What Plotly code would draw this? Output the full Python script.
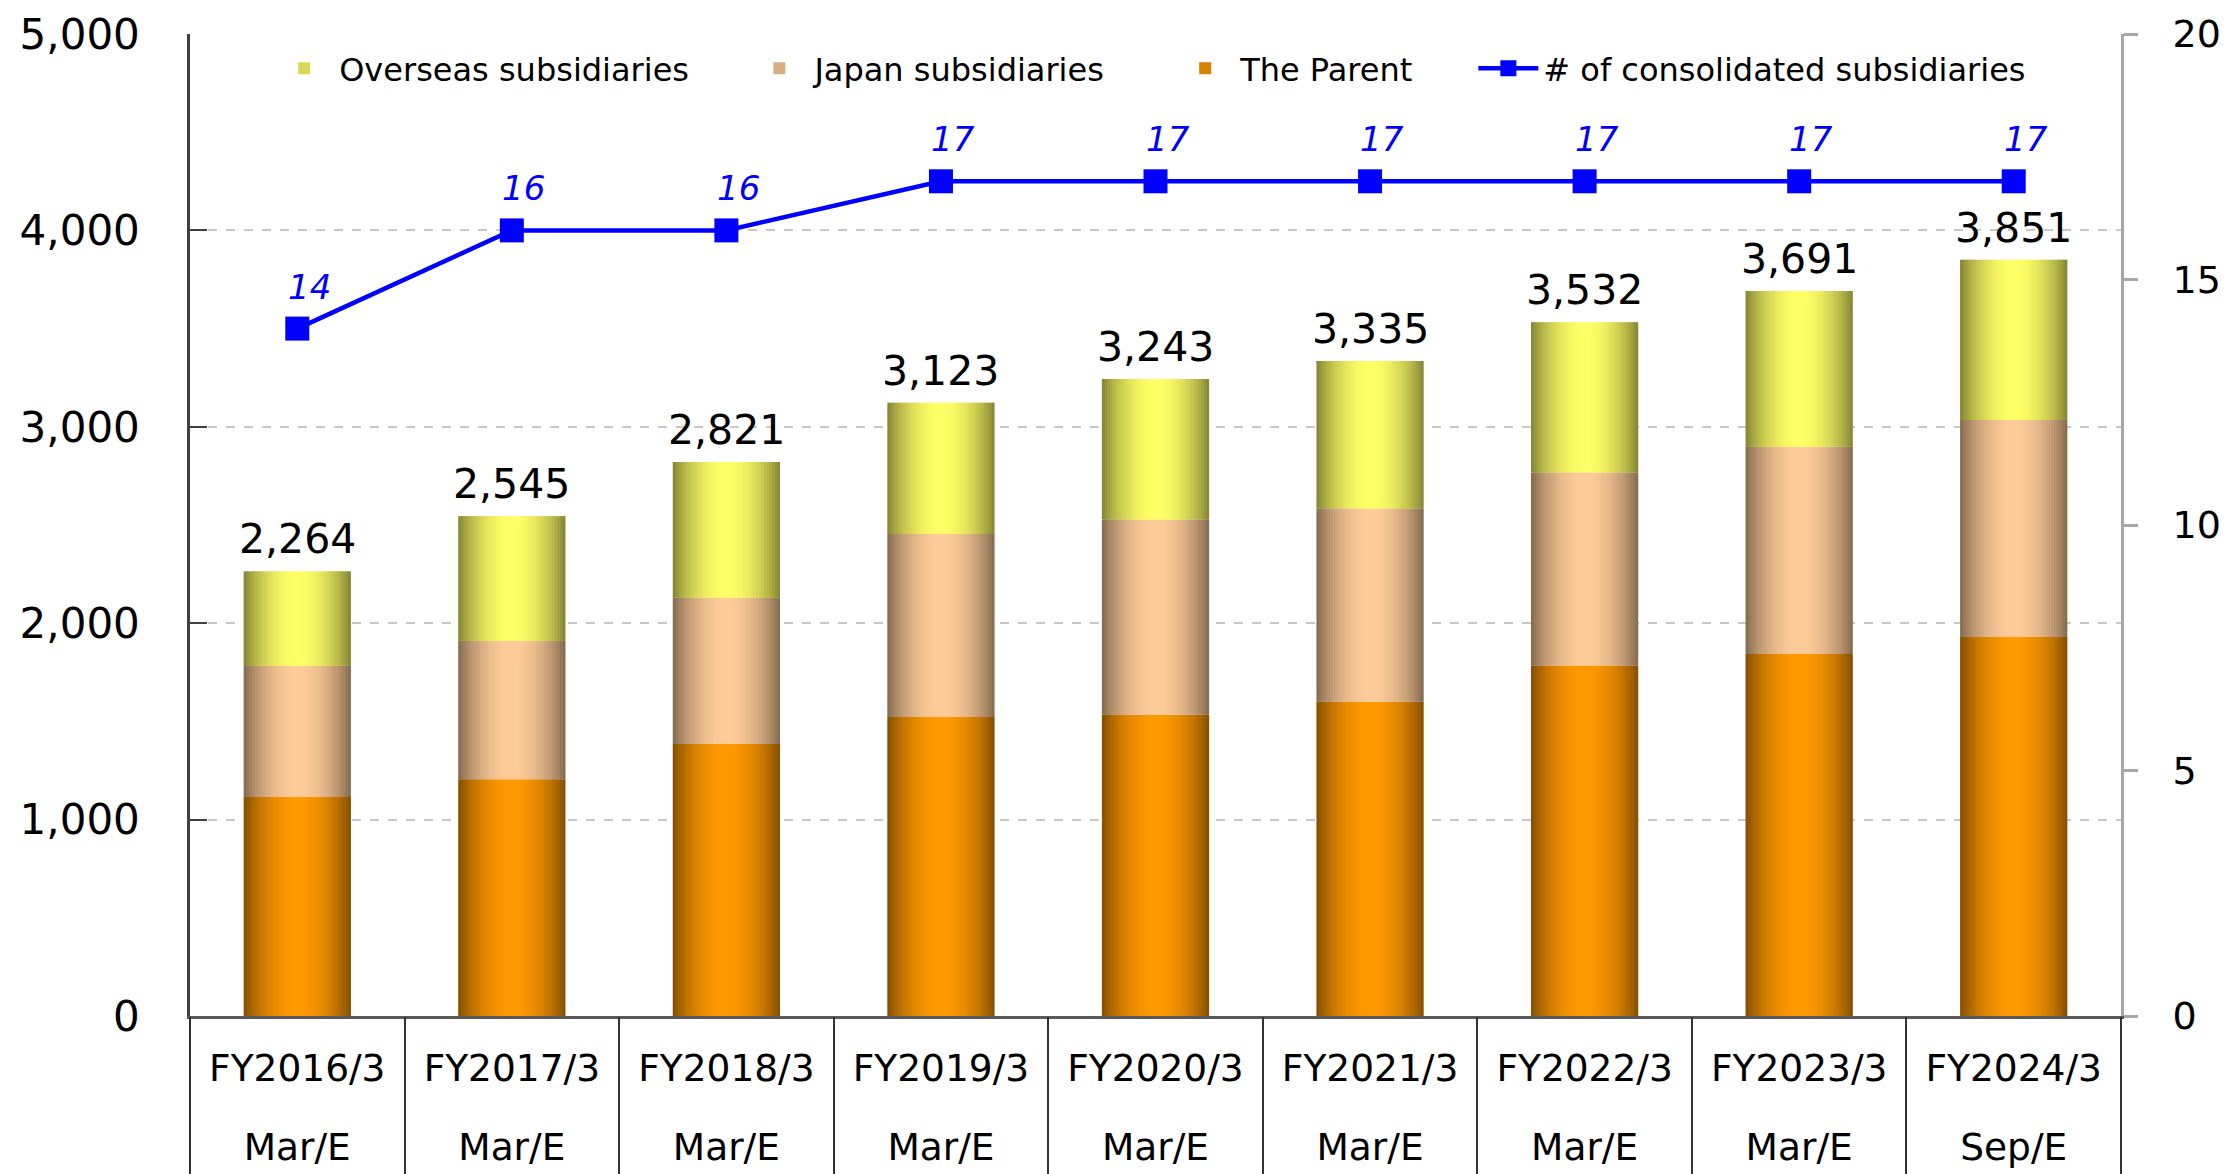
import math
import plotly.graph_objects as go

# ---------------- data ----------------
categories = ["FY2016/3", "FY2017/3", "FY2018/3", "FY2019/3", "FY2020/3",
              "FY2021/3", "FY2022/3", "FY2023/3", "FY2024/3"]
periods = ["Mar/E", "Mar/E", "Mar/E", "Mar/E", "Mar/E",
           "Mar/E", "Mar/E", "Mar/E", "Sep/E"]
parent = [1115, 1205, 1385, 1522, 1534, 1600, 1785, 1843, 1930]
japan = [668, 705, 745, 932, 994, 984, 982, 1055, 1105]
overseas = [481, 635, 691, 669, 715, 751, 765, 793, 816]
totals = [2264, 2545, 2821, 3123, 3243, 3335, 3532, 3691, 3851]
subsidiaries = [14, 16, 16, 17, 17, 17, 17, 17, 17]
y_ticks = [0, 1000, 2000, 3000, 4000, 5000]
y2_ticks = [0, 5, 10, 15, 20]

FONT = "DejaVu Sans"
n = len(categories)

fig = go.Figure()

# ---------------- gradient stacked bars (drawn as thin strips) ----------------
def shade(hex_color, f):
    r = int(hex_color[1:3], 16)
    g = int(hex_color[3:5], 16)
    b = int(hex_color[5:7], 16)
    k = 0.5 + 0.5 * f
    return "rgb(%d,%d,%d)" % (round(r * k), round(g * k), round(b * k))

base_japan = [p for p in parent]
base_overseas = [p + j for p, j in zip(parent, japan)]
series = [
    ("The Parent", parent, [0] * n, "#FF9900", "legend3"),
    ("Japan subsidiaries", japan, base_japan, "#FFCC99", "legend2"),
    ("Overseas subsidiaries", overseas, base_overseas, "#FFFF66", "legend"),
]

BAR_W = 0.5
STRIPS = 40
sw = BAR_W / STRIPS
for name, vals, base, col, lg in series:
    for k in range(STRIPS):
        t = (k + 0.5) / STRIPS
        f = math.sin(math.pi * t) ** 0.8
        fig.add_trace(go.Bar(
            x=categories, y=vals, base=base,
            offset=-BAR_W / 2 + k * sw,
            width=sw * (1.6 if k < STRIPS - 1 else 1.0),
            marker=dict(color=shade(col, f), line=dict(width=0)),
            name=name, showlegend=False, hoverinfo="skip",
        ))
    # legend entry
    fig.add_trace(go.Bar(
        x=[None], y=[None], name=name, legend=lg,
        marker=dict(color=shade(col, 0.7), line=dict(width=0)),
        showlegend=True,
    ))

# ---------------- line on secondary axis ----------------
fig.add_trace(go.Scatter(
    x=categories, y=subsidiaries, yaxis="y2", mode="lines+markers",
    name="# of consolidated subsidiaries", legend="legend4",
    line=dict(color="#0000FF", width=4.5),
    marker=dict(symbol="square", size=24, color="#0000FF"),
))

# carrier traces so the extra category-row / separator axes get drawn
fig.add_trace(go.Scatter(x=list(range(n)), y=[None] * n, xaxis="x2", yaxis="y",
                         mode="markers", showlegend=False, hoverinfo="skip"))
fig.add_trace(go.Scatter(x=list(range(n)), y=[None] * n, xaxis="x3", yaxis="y",
                         mode="markers", showlegend=False, hoverinfo="skip"))

annotations = []
for c, v in zip(categories, totals):
    annotations.append(dict(
        x=c, y=v, xref="x", yref="y", text=f"{v:,}", showarrow=False,
        yanchor="bottom", yshift=6,
        font=dict(family=FONT, size=41, color="#000000"),
    ))
for c, v in zip(categories, subsidiaries):
    annotations.append(dict(
        x=c, y=v, xref="x", yref="y2", text=f"<i>{v}</i>", showarrow=False,
        yanchor="bottom", xshift=12, yshift=20,
        font=dict(family=FONT, size=34, color="#0000FF"),
    ))

leg_common = dict(orientation="h", yanchor="middle", y=0.965, xanchor="left",
                  font=dict(family=FONT, size=32, color="#000000"),
                  bgcolor="rgba(0,0,0,0)", itemwidth=60, borderwidth=0)

fig.update_layout(
    width=2230, height=1174,
    margin=dict(l=190, r=109, t=34, b=158, pad=0, autoexpand=False),
    paper_bgcolor="white", plot_bgcolor="white",
    barmode="overlay",
    font=dict(family=FONT, size=36, color="#000000"),
    annotations=annotations,
    legend=dict(leg_common, x=0.041),
    legend2=dict(leg_common, x=0.2871),
    legend3=dict(leg_common, x=0.5076),
    legend4=dict(leg_common, x=0.6646),
    xaxis=dict(
        type="category", range=[-0.5, n - 0.5], automargin=False,
        showline=True, linecolor="#595959", linewidth=3,
        ticks="", showgrid=False, zeroline=False,
        tickfont=dict(family=FONT, size=37.5, color="#000000"),
        ticklabelstandoff=17,
    ),
    xaxis2=dict(
        type="linear", range=[-0.5, n - 0.5], overlaying="x", anchor="y", side="bottom",
        automargin=False,
        tickmode="array", tickvals=list(range(n)), ticktext=periods,
        showline=False, ticks="", showgrid=False, zeroline=False,
        tickfont=dict(family=FONT, size=37.5, color="#000000"),
        ticklabelstandoff=105,
    ),
    xaxis3=dict(
        type="linear", range=[-0.5, n - 0.5], overlaying="x", anchor="y", side="bottom",
        automargin=False,
        tickmode="array", tickvals=[i - 0.5 for i in range(n + 1)],
        ticks="outside", ticklen=160, tickwidth=1.5, tickcolor="#333333",
        showticklabels=False, showline=False, showgrid=False, zeroline=False,
    ),
    yaxis=dict(
        range=[0, 5000], tickmode="array", tickvals=y_ticks, tickformat=",",
        automargin=False,
        ticks="inside", ticklen=17, tickwidth=2, tickcolor="#404040",
        showline=True, linecolor="#404040", linewidth=2.5,
        showgrid=True, gridcolor="#c8c8c8", griddash="dash", gridwidth=1.5,
        zeroline=False,
        tickfont=dict(family=FONT, size=42, color="#000000"),
        ticklabelstandoff=39,
    ),
    yaxis2=dict(
        range=[0, 20], overlaying="y", side="right", anchor="x",
        automargin=False,
        tickmode="array", tickvals=y2_ticks,
        ticks="outside", ticklen=14, tickwidth=2.5, tickcolor="#a6a6a6",
        showline=True, linecolor="#a6a6a6", linewidth=3,
        showgrid=False, zeroline=False,
        tickfont=dict(family=FONT, size=38, color="#000000"),
        ticklabelstandoff=27,
    ),
)

fig.write_html("out.html", config={"displayModeBar": False},
               post_script="document.body.style.margin='0';")
